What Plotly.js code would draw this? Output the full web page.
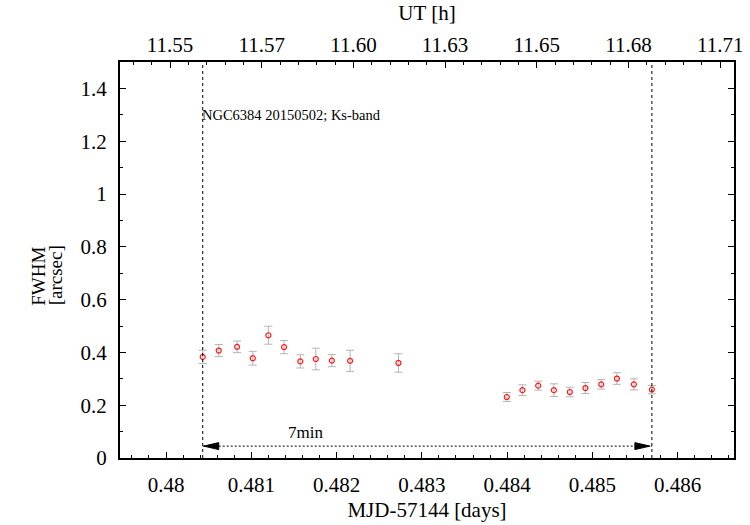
<!DOCTYPE html>
<html>
<head>
<meta charset="utf-8">
<script src="https://cdn.plot.ly/plotly-3.0.1.min.js"></script>
<style>html,body{margin:0;padding:0;background:#fff;}</style>
</head>
<body>
<div id="chart" style="width:750px;height:525px;"></div>
<script>
// Seeing measurements: epoch (MJD-57144), FWHM and its uncertainty
const mjd = [0.480430, 0.480618, 0.480833, 0.481017, 0.481200, 0.481384, 0.481575,
             0.481756, 0.481944, 0.482158, 0.482725,
             0.483996, 0.484179, 0.484364, 0.484548, 0.484735, 0.484918, 0.485103,
             0.485287, 0.485486, 0.485697];
const fwhm = [0.383, 0.407, 0.421, 0.378, 0.465, 0.420, 0.366, 0.375, 0.369, 0.368, 0.360,
              0.231, 0.257, 0.274, 0.257, 0.250, 0.265, 0.279, 0.301, 0.279, 0.259];
const fwhmErr = [0.025, 0.023, 0.022, 0.026, 0.034, 0.025, 0.025, 0.041, 0.023, 0.040, 0.035,
                 0.017, 0.020, 0.017, 0.024, 0.018, 0.021, 0.018, 0.022, 0.021, 0.016];

// Observation window boundaries and the duration marker
const windowStart = 0.480430;
const windowEnd = 0.485697;
const durationLabel = '7min';
const durationLabelX = 0.481630;
const durationLabelY = 0.097;
const arrowY = 0.045;

// Header text
const headerText = 'NGC6384 20150502; Ks-band';
const headerY = 1.30;

// Bottom axis (MJD) ticks
const mjdTickVals = [0.480, 0.481, 0.482, 0.483, 0.484, 0.485, 0.486];
const mjdTickText = ['0.48', '0.481', '0.482', '0.483', '0.484', '0.485', '0.486'];

// Top axis (UT hours) ticks
const utRange = [11.53637, 11.70376];
const utTickVals = [11.55, 11.575, 11.60, 11.625, 11.65, 11.675, 11.70];
const utTickText = ['11.55', '11.57', '11.60', '11.63', '11.65', '11.68', '11.71'];

// Left axis ticks
const fwhmTickVals = [0, 0.2, 0.4, 0.6, 0.8, 1.0, 1.2, 1.4];
const fwhmTickText = ['0', '0.2', '0.4', '0.6', '0.8', '1', '1.2', '1.4'];

const serif = 'Liberation Serif, Times New Roman, serif';

const traces = [
  {
    x: mjd,
    y: fwhm,
    type: 'scatter',
    mode: 'markers',
    marker: {symbol: 'circle-open', size: 5, color: '#ff1a1a', line: {width: 1.2, color: '#ff1a1a'}},
    error_y: {type: 'data', array: fwhmErr, visible: true, color: '#b4b4b4', thickness: 1, width: 4},
    showlegend: false,
    hoverinfo: 'x+y'
  },
  // empty trace that attaches the UT scale to the top of the frame
  {
    x: [], y: [], xaxis: 'x2', yaxis: 'y', type: 'scatter', mode: 'markers',
    showlegend: false, hoverinfo: 'skip'
  }
];

const layout = {
  width: 750,
  height: 525,
  margin: {l: 120, r: 16, t: 62, b: 67},
  paper_bgcolor: '#ffffff',
  plot_bgcolor: '#ffffff',
  font: {family: serif, size: 20, color: '#000'},
  showlegend: false,
  xaxis: {
    range: [0.47946, 0.48666],
    tickvals: mjdTickVals,
    ticktext: mjdTickText,
    ticks: 'inside',
    ticklen: 6,
    tickwidth: 1,
    tickcolor: '#000',
    minor: {dtick: 0.0002, ticks: 'inside', ticklen: 3, tickcolor: '#000', showgrid: false},
    showgrid: false,
    zeroline: false,
    showline: true,
    linecolor: '#000',
    linewidth: 2,
    mirror: false,
    ticklabelstandoff: 7,
    tickfont: {family: serif, size: 21},
    title: {text: 'MJD-57144 [days]', font: {family: serif, size: 21}, standoff: 6}
  },
  xaxis2: {
    overlaying: 'x',
    side: 'top',
    anchor: 'y',
    range: utRange,
    tickvals: utTickVals,
    ticktext: utTickText,
    ticks: 'inside',
    ticklen: 6,
    tickwidth: 1,
    tickcolor: '#000',
    minor: {dtick: 0.005, ticks: 'inside', ticklen: 3, tickcolor: '#000', showgrid: false},
    showgrid: false,
    zeroline: false,
    showline: true,
    linecolor: '#000',
    linewidth: 2,
    ticklabelstandoff: 0,
    tickfont: {family: serif, size: 21},
    title: {text: 'UT [h]', font: {family: serif, size: 21}, standoff: 6}
  },
  yaxis: {
    range: [0, 1.5],
    tickvals: fwhmTickVals,
    ticktext: fwhmTickText,
    ticks: 'inside',
    ticklen: 6,
    tickwidth: 1,
    tickcolor: '#000',
    minor: {dtick: 0.1, ticks: 'inside', ticklen: 3, tickcolor: '#000', showgrid: false},
    showgrid: false,
    zeroline: false,
    showline: true,
    linecolor: '#000',
    linewidth: 2,
    mirror: 'ticks',
    ticklabelstandoff: 7,
    tickfont: {family: serif, size: 21}
  },
  shapes: [
    {type: 'line', xref: 'x', yref: 'paper', x0: windowStart, x1: windowStart, y0: 0, y1: 1,
     line: {color: '#000', width: 1, dash: '3px,3px'}},
    {type: 'line', xref: 'x', yref: 'paper', x0: windowEnd, x1: windowEnd, y0: 0, y1: 1,
     line: {color: '#000', width: 1, dash: '3px,3px'}},
    {type: 'line', xref: 'x', yref: 'y', x0: windowStart, x1: windowEnd, y0: arrowY, y1: arrowY,
     line: {color: '#000', width: 1, dash: '2px,2px'}},
    {type: 'path', xref: 'x', yref: 'y', xsizemode: 'pixel', ysizemode: 'pixel',
     xanchor: windowStart, yanchor: arrowY, path: 'M1,0 L16,3.5 L16,-3.5 Z',
     fillcolor: '#000', line: {color: '#000', width: 1}},
    {type: 'path', xref: 'x', yref: 'y', xsizemode: 'pixel', ysizemode: 'pixel',
     xanchor: windowEnd, yanchor: arrowY, path: 'M-2,0 L-17,3.5 L-17,-3.5 Z',
     fillcolor: '#000', line: {color: '#000', width: 1}}
  ],
  annotations: [
    {text: headerText, xref: 'x', yref: 'y', x: windowStart, y: headerY, xanchor: 'left', yanchor: 'middle',
     xshift: -3, showarrow: false, font: {family: serif, size: 14.5, color: '#000'}},
    {text: durationLabel, xref: 'x', yref: 'y', x: durationLabelX, y: durationLabelY, xanchor: 'center', yanchor: 'middle',
     showarrow: false, font: {family: serif, size: 17, color: '#000'}},
    {text: 'FWHM', xref: 'paper', yref: 'paper', x: -0.132, y: 0.46, xanchor: 'center', yanchor: 'middle',
     textangle: -90, showarrow: false, font: {family: serif, size: 19, color: '#000'}},
    {text: '[arcsec]', xref: 'paper', yref: 'paper', x: -0.105, y: 0.46, xanchor: 'center', yanchor: 'middle',
     textangle: -90, showarrow: false, font: {family: serif, size: 19, color: '#000'}}
  ]
};

Plotly.newPlot('chart', traces, layout, {displayModeBar: false, staticPlot: true});
</script>
</body>
</html>
